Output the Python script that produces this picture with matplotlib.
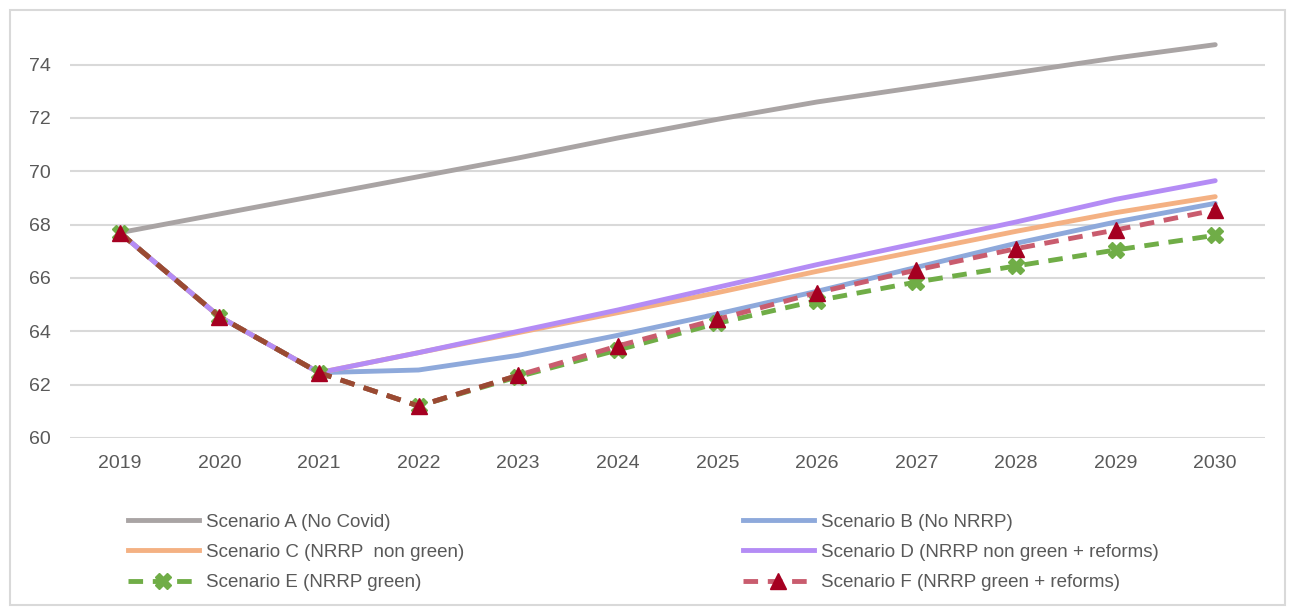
import matplotlib
matplotlib.use('Agg')
import matplotlib.pyplot as plt
from matplotlib.lines import Line2D
from matplotlib.patches import Rectangle
import numpy as np

years = [2019, 2020, 2021, 2022, 2023, 2024, 2025, 2026, 2027, 2028, 2029, 2030]

scen_a = [67.7, 68.4, 69.1, 69.8, 70.5, 71.25, 71.95, 72.6, 73.15, 73.7, 74.25, 74.75]
scen_b = [67.7, 64.55, 62.45, 62.55, 63.1, 63.85, 64.65, 65.5, 66.4, 67.3, 68.1, 68.8]
scen_c = [67.7, 64.55, 62.45, 63.2, 63.95, 64.7, 65.45, 66.25, 67.0, 67.75, 68.45, 69.05]
scen_d = [67.7, 64.55, 62.45, 63.2, 64.0, 64.8, 65.65, 66.5, 67.3, 68.1, 68.95, 69.65]
scen_e = [67.7, 64.55, 62.45, 61.2, 62.3, 63.3, 64.3, 65.15, 65.85, 66.45, 67.05, 67.6]
scen_f = [67.7, 64.55, 62.45, 61.2, 62.35, 63.45, 64.45, 65.45, 66.3, 67.1, 67.8, 68.55]

labels = ["Scenario A (No Covid)", "Scenario B (No NRRP)",
          "Scenario C (NRRP  non green)", "Scenario D (NRRP non green + reforms)",
          "Scenario E (NRRP green)", "Scenario F (NRRP green + reforms)"]

C_A = '#A9A4A4'
C_B = '#8EA9DB'
C_C = '#F4B183'
C_D = '#B48CF5'
C_E = '#70AD47'
C_F = '#C95C6E'
C_FM = '#A50021'
C_OVER = '#9A4A32'
TXT = '#595959'

plt.rcParams['font.family'] = ['Liberation Sans', 'DejaVu Sans']

fig = plt.figure(figsize=(12.91, 6.09), dpi=100)
ax = fig.add_axes([70 / 1291, 1 - 438 / 609, 1195 / 1291, 400 / 609])

lw = 3.5
x = np.array(years)
ax.plot(x, scen_a, color=C_A, lw=lw, solid_capstyle='round', zorder=3)
ax.plot(x, scen_b, color=C_B, lw=lw, solid_capstyle='round', zorder=3)
ax.plot(x, scen_c, color=C_C, lw=lw, solid_capstyle='round', zorder=3)
ax.plot(x, scen_d, color=C_D, lw=lw, solid_capstyle='round', zorder=4)
ax.plot(x, scen_e, color=C_E, lw=lw, ls=(0, (3, 2)), marker='X', ms=11,
        mec=C_E, mfc=C_E, zorder=5)
ax.plot(x, scen_f, color=C_F, lw=lw, ls=(0, (3, 2)), zorder=6)
# where E and F coincide the dashes blend to brown
e = np.array(scen_e)
f = np.array(scen_f)
same = np.abs(e - f) < 0.06
ax.plot(x[same], f[same], color=C_OVER, lw=lw, ls=(0, (3, 2)), zorder=6)
ax.plot(x, scen_f, ls='none', marker='^', ms=11, mfc=C_FM, mec=C_FM, zorder=7)

ax.set_xlim(2018.5, 2030.5)
ax.set_ylim(60, 75)
ax.set_yticks(range(60, 75, 2))
ax.set_xticks(years)
ax.grid(axis='y', color='#D9D9D9', lw=1.5)
ax.set_axisbelow(True)
for s in ax.spines.values():
    s.set_visible(False)
ax.tick_params(length=0, labelsize=14, colors=TXT, pad=12)
ax.tick_params(axis='y', pad=14)

fig.add_artist(Rectangle((10 / 1291, 4 / 609), 1275 / 1291, 595 / 609,
                         transform=fig.transFigure, fill=False,
                         edgecolor='#D9D9D9', lw=1.5))

handles = [
    Line2D([], [], color=C_A, lw=lw),
    Line2D([], [], color=C_B, lw=lw),
    Line2D([], [], color=C_C, lw=lw),
    Line2D([], [], color=C_D, lw=lw),
    Line2D([], [], color=C_E, lw=lw, ls=(0, (3, 2)), marker='X', ms=11, mfc=C_E, mec=C_E),
    Line2D([], [], color=C_F, lw=lw, ls=(0, (3, 2)), marker='^', ms=11, mfc=C_FM, mec=C_FM),
]

leg_kw = dict(frameon=False, fontsize=13.5, handlelength=3.8, handletextpad=0.4,
              labelspacing=0.7, labelcolor=TXT, borderaxespad=0)
fig.legend([handles[0], handles[2], handles[4]], [labels[0], labels[2], labels[4]],
           loc='upper left', bbox_to_anchor=(120 / 1291, 1 - 506 / 609), **leg_kw)
fig.legend([handles[1], handles[3], handles[5]], [labels[1], labels[3], labels[5]],
           loc='upper left', bbox_to_anchor=(735 / 1291, 1 - 506 / 609), **leg_kw)

fig.savefig('out.png', dpi=100)
